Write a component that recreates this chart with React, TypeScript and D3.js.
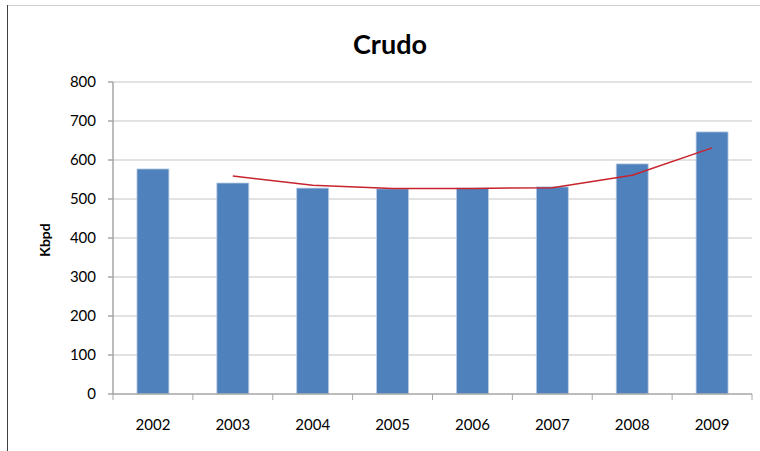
import * as d3 from 'd3'

const WIDTH = 760
const HEIGHT = 451

const YEARS = ['2002', '2003', '2004', '2005', '2006', '2007', '2008', '2009']
const CRUDO = [577, 541, 528, 526, 528, 531, 590, 672]
// trend line (starts at 2003)
const TREND_YEARS = ['2003', '2004', '2005', '2006', '2007', '2008', '2009']
const TREND = [559, 535, 527, 527, 529, 561, 631]
const Y_TICKS = [0, 100, 200, 300, 400, 500, 600, 700, 800]

const FONT = 'Lato, "Open Sans", sans-serif'

export default function App() {
  const left = 113
  const right = 752
  const top = 82
  const bottom = 394

  const x = d3.scaleBand().domain(YEARS).range([left, right]).paddingInner(0.6).paddingOuter(0.3)
  const band = d3.scaleBand().domain(YEARS).range([left, right])
  const y = d3.scaleLinear().domain([0, 800]).range([bottom, top])

  const line = d3
    .line<number>()
    .x((_, i) => (x(TREND_YEARS[i]) ?? 0) + x.bandwidth() / 2)
    .y((d) => y(d))

  const gridColor = '#d9d9d9'
  const axisColor = '#a6a6a6'

  return (
    <svg
      width={WIDTH}
      height={HEIGHT}
      style={{ position: 'absolute', left: 0, top: 0, background: '#fff' }}
    >
      {/* frame */}
      <line x1={7} x2={WIDTH} y1={5.5} y2={5.5} stroke="#d0d0d0" strokeWidth={1} />
      <line x1={7.5} x2={7.5} y1={5} y2={HEIGHT} stroke="#404040" strokeWidth={1} />

      <text x={390} y={54} textAnchor="middle" fontFamily={FONT} fontWeight="bold" fontSize={27} fill="#000">
        Crudo
      </text>

      {/* gridlines */}
      {Y_TICKS.filter((t) => t > 0).map((t) => (
        <line key={t} x1={left} x2={right} y1={y(t)} y2={y(t)} stroke={gridColor} strokeWidth={1.5} />
      ))}

      {/* bars */}
      {YEARS.map((yr, i) => (
        <rect
          key={yr}
          x={x(yr)}
          y={y(CRUDO[i])}
          width={x.bandwidth()}
          height={bottom - y(CRUDO[i])}
          fill="#4f81bd"
          stroke="#b9cde5"
          strokeWidth={0.8}
        />
      ))}

      {/* trend */}
      <path d={line(TREND) ?? undefined} fill="none" stroke="#c8232c" strokeWidth={1.5} strokeLinejoin="round" />

      {/* y axis */}
      <line x1={left} x2={left} y1={top} y2={bottom} stroke={axisColor} strokeWidth={1.5} />
      {Y_TICKS.map((t) => (
        <g key={t}>
          <line x1={left - 5} x2={left} y1={y(t)} y2={y(t)} stroke={axisColor} strokeWidth={1.5} />
          <text x={96} y={y(t) + 5} textAnchor="end" fontFamily={FONT} fontSize={15} fill="#000">
            {t}
          </text>
        </g>
      ))}

      {/* x axis */}
      <line x1={left} x2={right} y1={bottom} y2={bottom} stroke={axisColor} strokeWidth={1.5} />
      {[...YEARS.map((yr) => band(yr) ?? 0), right].map((px, i) => (
        <line key={i} x1={px} x2={px} y1={bottom} y2={bottom + 6} stroke={axisColor} strokeWidth={1} />
      ))}
      {YEARS.map((yr) => (
        <text
          key={yr}
          x={(band(yr) ?? 0) + band.bandwidth() / 2}
          y={430}
          textAnchor="middle"
          fontFamily={FONT}
          fontSize={15}
          fill="#000"
        >
          {yr}
        </text>
      ))}

      <text
        transform={`translate(50,240) rotate(-90)`}
        textAnchor="middle"
        fontFamily={FONT}
        fontWeight="bold"
        fontSize={14}
        fill="#000"
      >
        Kbpd
      </text>
    </svg>
  )
}
